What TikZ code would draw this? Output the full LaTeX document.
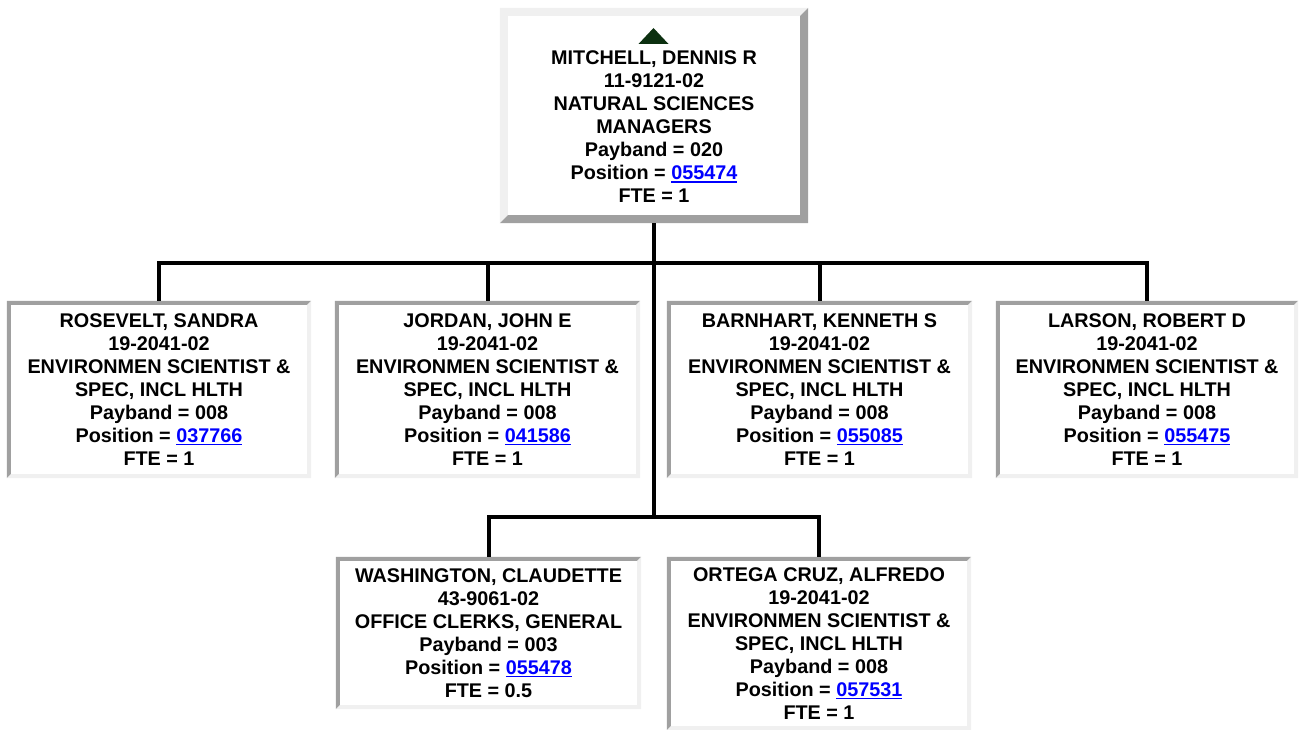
\documentclass[tikz,border=0pt]{standalone}
\usepackage{fontspec}
\setmainfont{Liberation Sans}
\definecolor{darkedge}{RGB}{160,160,160}
\definecolor{lightedge}{RGB}{240,240,240}
\definecolor{linkblue}{RGB}{0,0,255}
\definecolor{tri}{RGB}{12,48,16}
\newcommand\lnk[1]{\textcolor{linkblue}{\setbox0\hbox{#1}\rlap{\rule[-3pt]{\wd0}{1.7pt}}\box0}}
\newcommand\bevelbox[4]{%
  \fill[#3] (#1.north west) -- (#1.north east) -- ([shift={(-#2,#2)}]#1.north east) -- ([shift={(#2,#2)}]#1.north west) -- ([shift={(#2,-#2)}]#1.south west) -- (#1.south west) -- cycle;
  \fill[#4] (#1.south east) -- (#1.north east) -- ([shift={(-#2,#2)}]#1.north east) -- ([shift={(-#2,-#2)}]#1.south east) -- ([shift={(#2,-#2)}]#1.south west) -- (#1.south west) -- cycle;}
\tikzset{
  card/.style={rectangle, inner sep=0pt, align=center, font=\bfseries\fontsize{19.8}{23}\selectfont},
  conn/.style={line width=4pt, black, line join=miter},
}
\begin{document}
\begin{tikzpicture}[x=1pt,y=-1pt]
\useasboundingbox (0,0) rectangle (1299,730);
% boxes
\node[card, minimum width=308pt, minimum height=215pt] (mgr) at (654,115.5) {};
\node[card] (mgrtext) at (654,127) {MITCHELL, DENNIS R\\11-9121-02\\NATURAL SCIENCES\\MANAGERS\\Payband = 020\\Position = \lnk{055474}\\FTE = 1};
\node[card, minimum width=304pt, minimum height=177pt] (ros) at (159,389.5) {ROSEVELT, SANDRA\\19-2041-02\\ENVIRONMEN SCIENTIST \&\\SPEC, INCL HLTH\\Payband = 008\\Position = \lnk{037766}\\FTE = 1};
\node[card, minimum width=305pt, minimum height=177pt] (jor) at (487.5,389.5) {JORDAN, JOHN E\\19-2041-02\\ENVIRONMEN SCIENTIST \&\\SPEC, INCL HLTH\\Payband = 008\\Position = \lnk{041586}\\FTE = 1};
\node[card, minimum width=305pt, minimum height=177pt] (bar) at (819.5,389.5) {BARNHART, KENNETH S\\19-2041-02\\ENVIRONMEN SCIENTIST \&\\SPEC, INCL HLTH\\Payband = 008\\Position = \lnk{055085}\\FTE = 1};
\node[card, minimum width=302pt, minimum height=177pt] (lar) at (1147,389.5) {LARSON, ROBERT D\\19-2041-02\\ENVIRONMEN SCIENTIST \&\\SPEC, INCL HLTH\\Payband = 008\\Position = \lnk{055475}\\FTE = 1};
\node[card, minimum width=305pt, minimum height=152pt] (was) at (488.5,633) {WASHINGTON, CLAUDETTE\\43-9061-02\\OFFICE CLERKS, GENERAL\\Payband = 003\\Position = \lnk{055478}\\FTE = 0.5};
\node[card, minimum width=304pt, minimum height=173pt] (ort) at (819,643.5) {ORTEGA CRUZ, ALFREDO\\19-2041-02\\ENVIRONMEN SCIENTIST \&\\SPEC, INCL HLTH\\Payband = 008\\Position = \lnk{057531}\\FTE = 1};
% borders
\bevelbox{mgr}{8}{lightedge}{darkedge}
\bevelbox{ros}{4}{darkedge}{lightedge}
\bevelbox{jor}{4}{darkedge}{lightedge}
\bevelbox{bar}{4}{darkedge}{lightedge}
\bevelbox{lar}{4}{darkedge}{lightedge}
\bevelbox{was}{4}{darkedge}{lightedge}
\bevelbox{ort}{4}{darkedge}{lightedge}
% collapse triangle
\fill[tri] (638.5,44) -- (653.5,28) -- (668.5,44) -- cycle;
% connectors
\coordinate (bar1) at (654,263);
\coordinate (bar2) at (654,517);
\draw[conn] (mgr.south) -- (bar2);
\draw[conn] (ros.north) -- (ros.north |- bar1) -- (lar.north |- bar1) -- (lar.north);
\draw[conn] (jor.north) -- (jor.north |- bar1);
\draw[conn] (bar.north) -- (bar.north |- bar1);
\draw[conn] (was.north) -- (was.north |- bar2) -- (ort.north |- bar2) -- (ort.north);
\end{tikzpicture}
\end{document}
